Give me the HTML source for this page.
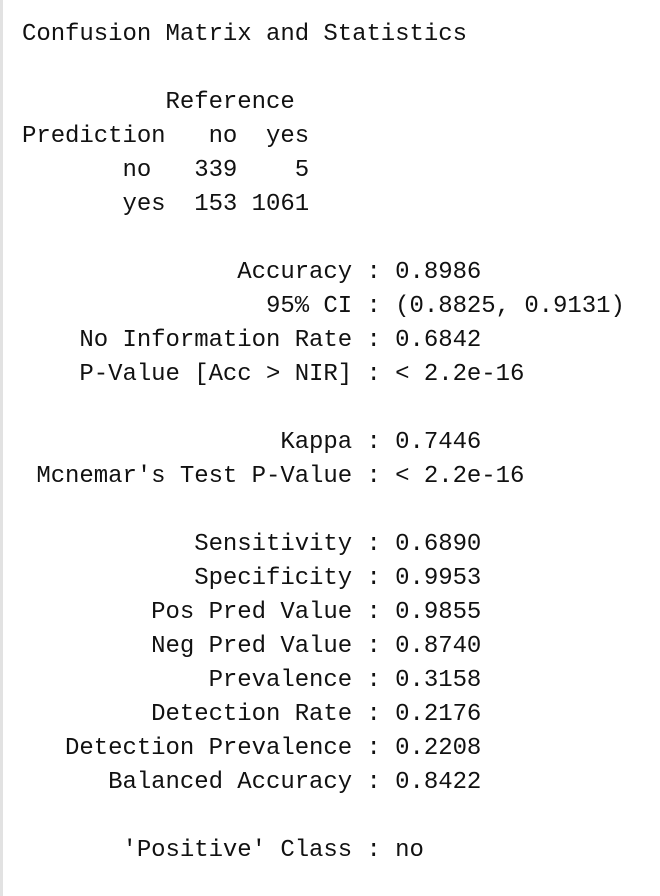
<!DOCTYPE html>
<html><head><meta charset="utf-8"><style>
html,body{margin:0;padding:0;background:#fff;width:660px;height:896px;overflow:hidden}
#border{position:absolute;left:0;top:0;width:3px;height:896px;background:#e2e2e2}
pre{position:absolute;left:22px;top:18px;margin:0;font-family:"Liberation Mono",monospace;font-size:24px;line-height:34px;color:#111;letter-spacing:-0.05px}
</style></head><body>
<div id="border"></div>
<pre>Confusion Matrix and Statistics

          Reference
Prediction   no  yes
       no   339    5
       yes  153 1061

               Accuracy : 0.8986
                 95% CI : (0.8825, 0.9131)
    No Information Rate : 0.6842
    P-Value [Acc &gt; NIR] : &lt; 2.2e-16

                  Kappa : 0.7446
 Mcnemar's Test P-Value : &lt; 2.2e-16

            Sensitivity : 0.6890
            Specificity : 0.9953
         Pos Pred Value : 0.9855
         Neg Pred Value : 0.8740
             Prevalence : 0.3158
         Detection Rate : 0.2176
   Detection Prevalence : 0.2208
      Balanced Accuracy : 0.8422

       'Positive' Class : no</pre>
</body></html>
